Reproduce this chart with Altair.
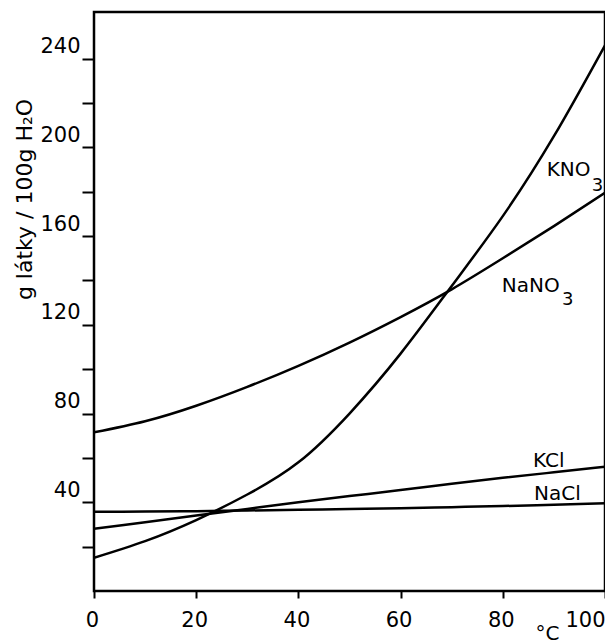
import altair as alt
import pandas as pd

# Temperature (°C) sample points
temps = [0, 10, 20, 30, 40, 50, 60, 70, 80, 90, 100]

# Solubility (g per 100 g H2O)
kno3 = [15, 22.5, 32, 43.5, 58, 80, 107, 137.5, 169, 205, 246]
nano3 = [71.5, 76.5, 83.5, 92, 101.5, 112, 123.5, 136, 150, 164.5, 179.5]
kcl = [28, 31, 34, 37, 40, 42.8, 45.5, 48.3, 51, 53.5, 56]
nacl = [35.7, 35.8, 36, 36.3, 36.6, 37, 37.3, 37.8, 38.3, 38.9, 39.5]

series_names = ["KNO3", "NaNO3", "KCl", "NaCl"]
series_values = [kno3, nano3, kcl, nacl]

# Curve labels (main text + subscript), anchored in data units
label_main = ["KNO", "NaNO", "KCl", "NaCl"]
label_main_x = [88.6, 79.8, 85.9, 86.1]
label_main_y = [187, 134.7, 55.9, 41]
label_sub = ["3", "3"]
label_sub_x = [97.4, 91.6]
label_sub_y = [180.5, 129]

x_ticks = [0, 20, 40, 60, 80, 100]
y_ticks = [20, 40, 60, 80, 100, 120, 140, 160, 180, 200, 220, 240]

rows = []
for name, vals in zip(series_names, series_values):
    for t, v in zip(temps, vals):
        rows.append({"series": name, "t": t, "v": v})
df = pd.DataFrame(rows)

lab_df = pd.DataFrame({"text": label_main, "x": label_main_x, "y": label_main_y})
sub_df = pd.DataFrame({"text": label_sub, "x": label_sub_x, "y": label_sub_y})

FONT = "DejaVu Sans"

x_scale = alt.Scale(domain=[0, 100], nice=False, zero=False)
y_scale = alt.Scale(domain=[0, 261], nice=False, zero=True)

x_axis = alt.Axis(
    values=x_ticks,
    title="°C",
    titleFont=FONT,
    titleFontSize=20,
    titleFontWeight="normal",
    titleColor="black",
    titleX=453,
    titleY=32,
    titleAlign="center",
    titleBaseline="top",
    labelFont=FONT,
    labelFontSize=21,
    labelColor="black",
    labelPadding=11,
    labelAlign={"condition": {"test": "datum.value == 100", "value": "right"}, "value": "center"},
    labelOffset={"condition": {"test": "datum.value == 100", "value": 0}, "value": -2},
    labelFlush=False,
    tickSize=7,
    tickWidth=2,
    tickColor="black",
    domain=False,
    grid=False,
)

y_axis = alt.Axis(
    values=y_ticks,
    labelExpr="datum.value % 40 == 0 ? datum.label : ''",
    title="g látky / 100g H₂O",
    titleFont=FONT,
    titleFontSize=22,
    titleFontWeight="normal",
    titleColor="black",
    titleAngle=270,
    titleX=-70,
    titleY=187,
    titleAlign="center",
    titleBaseline="middle",
    labelFont=FONT,
    labelFontSize=21,
    labelColor="black",
    labelBaseline="alphabetic",
    labelOffset=-6,
    labelPadding=2,
    tickSize=12,
    tickWidth=2,
    tickColor="black",
    domain=False,
    grid=False,
)

lines = alt.Chart(df).mark_line(
    interpolate="natural", color="black", strokeWidth=2.5, clip=True
).encode(
    x=alt.X("t:Q", scale=x_scale, axis=x_axis),
    y=alt.Y("v:Q", scale=y_scale, axis=y_axis),
    detail="series:N",
)

labels = alt.Chart(lab_df).mark_text(
    align="left", baseline="alphabetic", font=FONT, fontSize=20, color="black"
).encode(
    x=alt.X("x:Q", scale=x_scale),
    y=alt.Y("y:Q", scale=y_scale),
    text="text:N",
)

subs = alt.Chart(sub_df).mark_text(
    align="left", baseline="alphabetic", font=FONT, fontSize=18, color="black"
).encode(
    x=alt.X("x:Q", scale=x_scale),
    y=alt.Y("y:Q", scale=y_scale),
    text="text:N",
)

chart = alt.layer(lines, labels, subs).properties(
    width=511,
    height=579,
    autosize=alt.AutoSizeParams(type="none"),
    padding={"left": 86, "top": 4, "right": 0, "bottom": 52},
    background="white",
).configure_view(
    stroke="black", strokeWidth=2.5
)

chart.save("out.html", embed_options={"renderer": "svg", "actions": False})
